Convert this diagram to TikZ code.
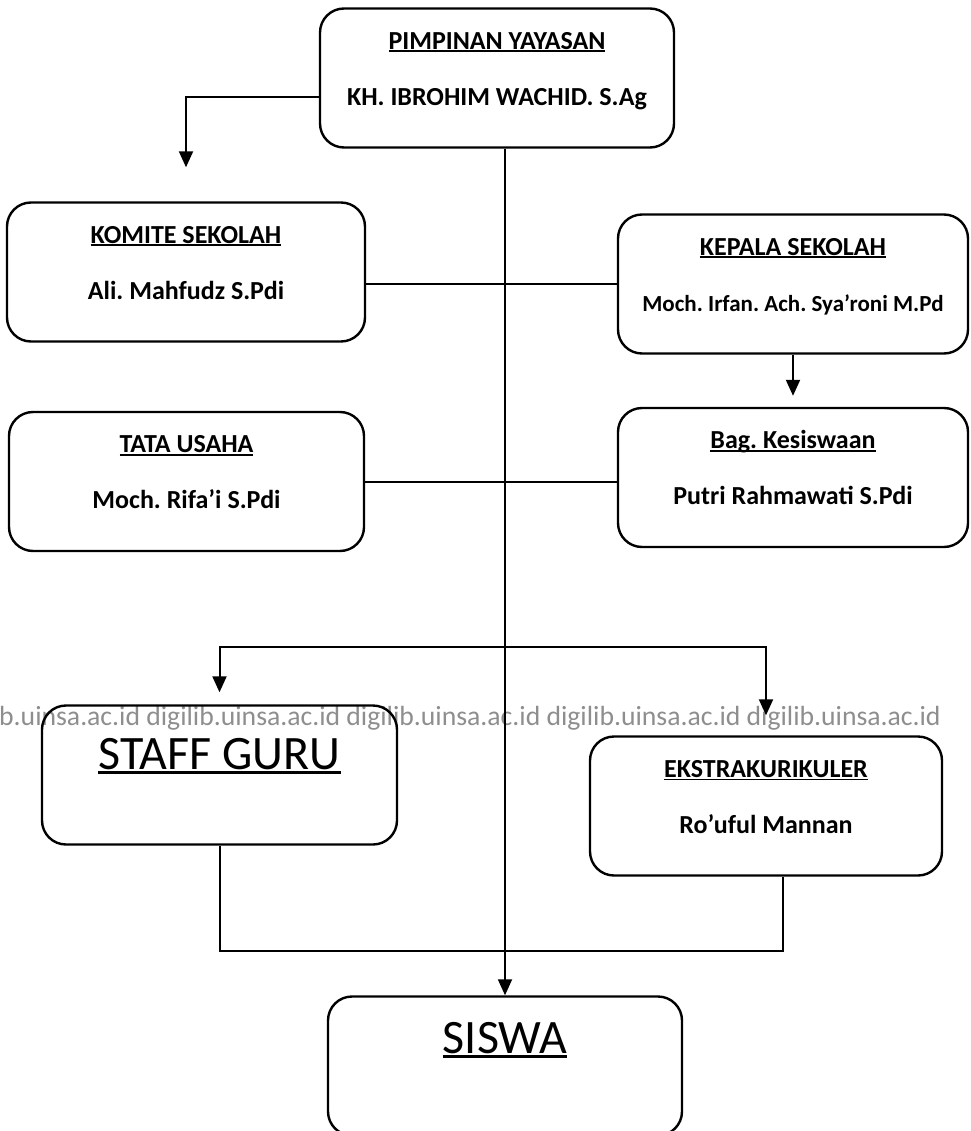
\documentclass[tikz,border=0pt]{standalone}
\usepackage{fontspec}
\setmainfont{Carlito}
\usetikzlibrary{arrows.meta,calc}
\definecolor{wmgray}{HTML}{8E8E8E}
% underline with own offset and thickness
\newcommand{\uln}[3]{\setbox0=\hbox{#3}\rlap{\rule[-#1]{\wd0}{#2}}\box0}
\tikzset{
  box/.style={draw,line width=2.4pt,rounded corners=24pt,minimum height=139pt,inner sep=0pt},
  ttl/.style={font=\fontsize{26}{29}\selectfont\bfseries\frenchspacing,anchor=base,inner sep=0pt},
  big/.style={font=\fontsize{48}{52}\selectfont,anchor=base,inner sep=0pt},
  wmk/.style={font=\fontsize{27.7}{31}\selectfont,text=wmgray,anchor=base west,inner sep=0pt},
  link/.style={line width=2pt},
  arr/.style={line width=2pt,-{Triangle[length=16pt,width=14pt]}}
}
\begin{document}
\begin{tikzpicture}[x=1pt,y=-1pt]
  \useasboundingbox (0,0) rectangle (970,1131);
  % watermark first so the lines sit on top
  \node[wmk] (wm) at (-1,725) {b.uinsa.ac.id digilib.uinsa.ac.id digilib.uinsa.ac.id digilib.uinsa.ac.id digilib.uinsa.ac.id};
  \foreach \n/\cx/\cy/\w/\ttl/\who/\fs in {
    yay/497/78/354/PIMPINAN YAYASAN/KH. IBROHIM WACHID. S.Ag/26,
    kom/186/272/358/KOMITE SEKOLAH/Ali. Mahfudz S.Pdi/26,
    kep/793/284/350/KEPALA SEKOLAH/Moch. Irfan. Ach. Sya’roni M.Pd/23,
    tata/186.5/481.5/355/TATA USAHA/Moch. Rifa’i S.Pdi/26,
    bag/793/477.5/350/Bag. Kesiswaan/Putri Rahmawati S.Pdi/26,
    eks/766/806/352/EKSTRAKURIKULER/Ro’uful Mannan/26} {
    \node[box,minimum width=\w pt] (\n) at (\cx,\cy) {};
    \node[ttl] (\n-t) at ($(\n.north)+(0,42)$) {\uln{3pt}{1.8pt}{\ttl}};
    \node[ttl] (\n-p) at ($(\n.north)+(0,98)$) {\fontsize{\fs}{29}\selectfont\who};
  }
  \node[box,minimum width=355pt] (staff) at (219.5,775) {};
  \node[big] (staff-t) at ($(staff.north)+(0,65)$) {\uln{5pt}{3.5pt}{STAFF GURU}};
  \node[box,minimum width=354pt] (siswa) at (505,1066) {};
  \node[big] (siswa-t) at ($(siswa.north)+(0,58)$) {\uln{5pt}{3.5pt}{SISWA}};
  % connectors
  \draw[arr,shorten >=34pt] ([yshift=-19pt]yay.west) -| (kom.north);
  \draw[link] (kep.west) -- (kep.west -| kom.east);
  \draw[arr,shorten >=11pt] (kep.south) -- (bag.north);
  \draw[link] (tata.east) -- (tata.east -| bag.west);
  \draw[arr,line width=1.8pt] (yay.south -| siswa.north) -- (siswa.north);
  \coordinate (fork) at (505,647);
  \draw[arr,shorten >=12pt] (fork) -| (staff.north);
  \draw[arr,shorten >=20pt] (fork) -| (eks.north);
  \draw[link] (staff.south) |- ($(siswa.north)+(0,-44)$) -| ([xshift=17pt]eks.south);
\end{tikzpicture}
\end{document}
